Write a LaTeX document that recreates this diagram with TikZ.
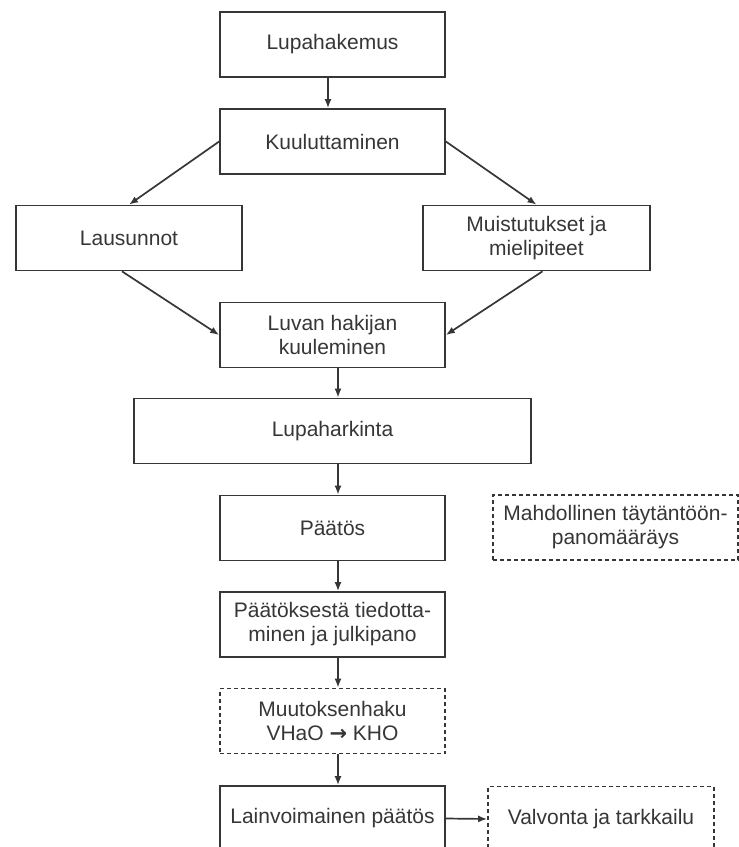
\documentclass[tikz,border=0pt]{standalone}
\usepackage{fontspec}
\setmainfont{Liberation Sans}
\newfontfamily\arrowfont{DejaVu Sans}
\usetikzlibrary{arrows.meta}
\definecolor{ink}{HTML}{363636}
\tikzstyle{box}=[draw, rectangle, minimum width=225, minimum height=65, inner sep=0, align=center]
\tikzstyle{dashbox}=[box, dash pattern=on 4pt off 3pt]
\tikzstyle{arr}=[-{Latex[length=9pt, width=7pt]}]

\begin{document}
\begin{tikzpicture}[x=1pt, y=-1pt, line width=1.7pt, ink, font=\fontsize{21}{24}\selectfont]
    \clip (0,0) rectangle (739,847);
% Steps
    \node[box] (hakemus) at (332.5,44.5) {Lupahakemus};
    \node[box] (kuulutus) at (332.5,141.5) {Kuuluttaminen};
    \node[box, minimum width=226] (lausunnot) at (129,238) {Lausunnot};
    \node[box, minimum width=227] (muistutukset) at (536.5,238) {Muistutukset ja\\mielipiteet};
    \node[box] (kuuleminen) at (332.5,335) {Luvan hakijan\\kuuleminen};
    \node[box, minimum width=397] (harkinta) at (332.5,431) {Lupaharkinta};
    \node[box] (paatos) at (332.5,528) {Päätös};
    \node[box] (tiedotus) at (332.5,624.5) {Päätöksestä tiedotta-\\minen ja julkipano};
    \node[dashbox] (muutos) at (332.5,721) {Muutoksenhaku\\VHaO {\arrowfont\bfseries →} KHO};
    \node[box] (lainvoima) at (332.5,818.5) {Lainvoimainen päätös};
% Optional steps
    \node[dashbox, minimum width=245] (maarays) at (615.5,527.5) {Mahdollinen täytäntöön-\\panomääräys};
    \node[dashbox, minimum width=226] (valvonta) at (601,819) {Valvonta ja tarkkailu};
% Flow
    \draw[arr] ([xshift=-4.5]hakemus.south) -- ([xshift=-4.5]kuulutus.north);
    \draw[arr] (kuulutus.west) -- (lausunnot.north);
    \draw[arr] (kuulutus.east) -- (muistutukset.north);
    \draw[arr] ([xshift=-7]lausunnot.south) -- (kuuleminen.west);
    \draw[arr] ([xshift=6]muistutukset.south) -- (kuuleminen.east);
    \draw[arr] ([xshift=5.5]kuuleminen.south) -- ([xshift=5.5]harkinta.north);
    \draw[arr] ([xshift=5.5]harkinta.south) -- ([xshift=5.5]paatos.north);
    \draw[arr] ([xshift=5.5]paatos.south) -- ([xshift=5.5]tiedotus.north);
    \draw[arr] ([xshift=5.5]tiedotus.south) -- ([xshift=5.5]muutos.north);
    \draw[arr] ([xshift=5.5]muutos.south) -- ([xshift=5.5]lainvoima.north);
    \draw[arr] (lainvoima.east) -- (valvonta.west);
\end{tikzpicture}
\end{document}
